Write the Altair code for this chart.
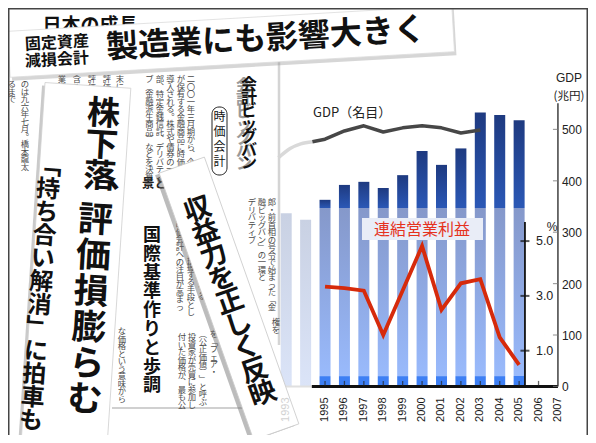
import altair as alt
import pandas as pd

JP = "Noto Sans CJK JP"
NUM = "Liberation Sans"

# ---------------- data ----------------
bar_years = [1993, 1994, 1995, 1996, 1997, 1998, 1999, 2000, 2001, 2002, 2003, 2004, 2005]
bar_values = [337, 324, 363, 392, 398, 386, 411, 458, 431, 463, 533, 528, 518]

gdp_early_years = [1992.6, 1993.2, 1993.75, 1994.35]
gdp_early_values = [445, 463, 472, 476]
gdp_years = [1994.35, 1995, 1996, 1997, 1998, 1999, 2000, 2001, 2002, 2003]
gdp_values = [476, 481, 497, 507, 495, 503, 507, 503, 493, 499]

profit_years = [1995, 1996, 1997, 1998, 1999, 2000, 2001, 2002, 2003, 2004, 2005]
profit_pct = [3.34, 3.28, 3.19, 1.57, 3.2, 4.82, 2.49, 3.46, 3.61, 1.49, 0.48]

label_years = [1995, 1996, 1997, 1998, 1999, 2000, 2001, 2002, 2003, 2004, 2005, 2006, 2007]
tick_years = [1995, 1996, 1997, 1998, 1999, 2000, 2001, 2002, 2003, 2004, 2005, 2006]
faded_label_years = [1993]
gdp_ticks = [0, 100, 200, 300, 400, 500]
pct_ticks = [1.0, 3.0, 5.0]

# ---------------- style constants ----------------
FADE_BEFORE = 1995
OVERLAY_TOP = 347
STRIP_TOP = 20
AXIS_START = 1994.32
AXIS_END = 2007
GDP_AXIS_X = 2007
GDP_AXIS_TOP = 551
PCT_AXIS_X = 2005.3

XS = alt.Scale(domain=[1978.924, 2008.291], nice=False, zero=False)
YG = alt.Scale(domain=[-94.55, 736.2], nice=False, zero=False)
YP = alt.Scale(domain=[-2.077, 13.507], nice=False, zero=False)


def xf(f):
    return alt.X(f"{f}:Q", scale=XS, axis=None)


def yg(f):
    return alt.Y(f"{f}:Q", scale=YG, axis=None)


def yp(f):
    return alt.Y(f"{f}:Q", scale=YP, axis=None)


def xd(v):
    return alt.XDatum(v, type="quantitative", scale=XS, axis=None)


def ygd(v):
    return alt.YDatum(v, type="quantitative", scale=YG, axis=None)


def ypd(v):
    return alt.YDatum(v, type="quantitative", scale=YP, axis=None)


def grad(c1, c2):
    return alt.LinearGradient(
        gradient="linear",
        stops=[alt.GradientStop(color=c1, offset=0), alt.GradientStop(color=c2, offset=1)],
        x1=0, x2=0, y1=0, y2=1,
    )


ONE = pd.DataFrame({"k": [0]})
layers = []

# ---------------- bars ----------------
bars = pd.DataFrame({"year": bar_years, "value": bar_values})
main = bars[bars.year >= FADE_BEFORE]
faded = bars[bars.year < FADE_BEFORE]
upper = main[main.value > OVERLAY_TOP].assign(lo=OVERLAY_TOP, hi=lambda d: d.value)
mid = main.assign(lo=STRIP_TOP, hi=main.value.clip(upper=OVERLAY_TOP))
bottom = main.assign(lo=0, hi=STRIP_TOP)
fad = faded.assign(lo=0, hi=faded.value)

for df, c1, c2 in [
    (upper, "#1e3a80", "#2b58b6"),
    (mid, "#8598ca", "#99bafc"),
    (bottom, "#3d7ff4", "#3d7ff4"),
    (fad, "#c9d1e3", "#dbe4f8"),
]:
    layers.append(
        alt.Chart(df).mark_bar(size=11, color=grad(c1, c2)).encode(
            x=xf("year"), y=yg("lo"), y2=alt.Y2("hi:Q")
        )
    )

# ---------------- lines ----------------
layers.append(
    alt.Chart(pd.DataFrame({"year": gdp_early_years, "v": gdp_early_values}))
    .mark_line(color="#d9d9d9", strokeWidth=3.5, interpolate="monotone")
    .encode(x=xf("year"), y=yg("v"))
)
layers.append(
    alt.Chart(pd.DataFrame({"year": gdp_years, "v": gdp_values}))
    .mark_line(color="#474747", strokeWidth=3.5, strokeJoin="round")
    .encode(x=xf("year"), y=yg("v"))
)

# overlay label box
layers.append(
    alt.Chart(ONE).mark_rect(color="#e9edf7").encode(
        x=alt.value(354), x2=alt.value(475), y=alt.value(210), y2=alt.value(232)
    )
)
layers.append(
    alt.Chart(ONE).mark_text(text="連結営業利益", font=JP, fontSize=16, color="#e5321d").encode(
        x=alt.value(414), y=alt.value(222)
    )
)

layers.append(
    alt.Chart(pd.DataFrame({"year": profit_years, "p": profit_pct}))
    .mark_line(color="#d62a0b", strokeWidth=3.8, strokeJoin="miter")
    .encode(x=xf("year"), y=yp("p"))
)

# ---------------- axes ----------------
layers.append(
    alt.Chart(ONE).mark_rule(color="#e0e0e0", strokeWidth=2).encode(
        x=xd(1992.6), x2=alt.X2Datum(AXIS_START), y=ygd(0)
    )
)
layers.append(
    alt.Chart(ONE).mark_rule(color="#111111", strokeWidth=3).encode(
        x=xd(AXIS_START), x2=alt.X2Datum(AXIS_END), y=ygd(0)
    )
)
layers.append(
    alt.Chart(pd.DataFrame({"year": tick_years}))
    .mark_tick(orient="vertical", size=5, thickness=1.3, color="#222222", yOffset=-3)
    .encode(x=xf("year"), y=ygd(0))
)
layers.append(
    alt.Chart(pd.DataFrame({"year": label_years}))
    .mark_text(angle=270, align="right", baseline="middle", dx=-11, fontSize=11, font=NUM, color="#1a1a1a")
    .encode(x=xf("year"), y=ygd(0), text=alt.Text("year:Q", format="d"))
)

# GDP axis (right)
layers.append(
    alt.Chart(ONE).mark_rule(color="#222222", strokeWidth=1.3).encode(
        x=xd(GDP_AXIS_X), y=ygd(0), y2=alt.Y2Datum(GDP_AXIS_TOP)
    )
)
layers.append(
    alt.Chart(pd.DataFrame({"v": gdp_ticks}))
    .mark_tick(orient="horizontal", size=5, thickness=1.2, color="#777777", xOffset=-2.5)
    .encode(x=xd(GDP_AXIS_X), y=yg("v"))
)
layers.append(
    alt.Chart(pd.DataFrame({"v": gdp_ticks}))
    .mark_text(align="left", baseline="middle", dx=4, dy=1, fontSize=12, font=NUM, color="#222222")
    .encode(x=xd(GDP_AXIS_X), y=yg("v"), text=alt.Text("v:Q", format="d"))
)

# % axis
layers.append(
    alt.Chart(ONE).mark_rule(color="#111111", strokeWidth=1.8).encode(
        x=xd(PCT_AXIS_X), y=ypd(-0.3), y2=alt.Y2Datum(5.7)
    )
)
layers.append(
    alt.Chart(pd.DataFrame({"p": pct_ticks}))
    .mark_tick(orient="horizontal", size=9, thickness=2, color="#111111")
    .encode(x=xd(PCT_AXIS_X), y=yp("p"))
)
layers.append(
    alt.Chart(pd.DataFrame({"p": pct_ticks}))
    .mark_text(align="left", baseline="middle", dx=11, fontSize=12.5, font=NUM, color="#222222")
    .encode(x=xd(PCT_AXIS_X), y=yp("p"), text=alt.Text("p:Q", format=".1f"))
)


# ---------------- annotation helpers (screen coords) ----------------
def T(s, x, y, size, color="#111111", weight="normal", angle=0, align="center",
      baseline="middle", font=JP, lh=None, opacity=1.0):
    kw = dict(text=s, fontSize=size, color=color, fontWeight=weight, align=align,
              baseline=baseline, font=font, opacity=opacity)
    if angle:
        kw["angle"] = angle % 360
    if "\n" in s:
        kw["lineBreak"] = "\n"
        kw["lineHeight"] = lh
    return alt.Chart(ONE).mark_text(**kw).encode(x=alt.value(x - 8), y=alt.value(y - 8))


VMAP = str.maketrans({"、": "︑", "。": "︒", "「": "﹁", "」": "﹂",
                      "（": "︵", "）": "︶", "ー": "︱"})


def V(s, x, ytop, size, lh, **kw):
    chars = list(s.translate(VMAP))
    return T("\n".join(chars), x, ytop, size, baseline="top", lh=lh, **kw)


def P(cx, cy, w, h, ang, fill, opacity=1.0, stroke=None, sw=0.0):
    path = (f"M{-w/2:.1f},{-h/2:.1f}L{w/2:.1f},{-h/2:.1f}"
            f"L{w/2:.1f},{h/2:.1f}L{-w/2:.1f},{h/2:.1f}Z")
    return alt.Chart(ONE).mark_point(
        shape=path, size=4, angle=ang % 360, filled=True, fill=fill, color=fill,
        opacity=opacity, stroke=stroke or fill, strokeWidth=sw,
    ).encode(x=alt.value(cx - 8), y=alt.value(cy - 8))


# chart titles
layers.append(T("GDP（名目）", 313, 113, 13, color="#222222", align="left"))
layers.append(T("GDP", 569, 78, 12, color="#222222", font=NUM))
layers.append(T("(兆円)", 569, 97, 11.5, color="#222222"))
layers.append(T("%", 552, 227, 12, color="#222222", font=NUM))

# ---------------- newspaper clippings ----------------
layers.append(
    alt.Chart(ONE).mark_rule(color="#d4d4d4", strokeWidth=2.5).encode(
        x=alt.value(279 - 8), y=alt.value(50 - 8), y2=alt.value(345 - 8)
    )
)
layers.append(
    alt.Chart(ONE).mark_rule(color="#d0d0d0", strokeWidth=2).encode(
        x=alt.value(112 - 8), x2=alt.value(242 - 8), y=alt.value(408 - 8)
    )
)

small_cols = [
    (191, 75, "二〇〇一年三月期から、企業"),
    (181, 75, "が保有する金融商品に時価会計"),
    (170.5, 75, "導入される。株式や債券の一"),
    (160, 75, "部、特定金銭信託、デリバティ"),
    (149.5, 75, "ブ（金融派生商品）などを決算"),
    (120, 75, "末に市場"),
    (107, 75, "評価益"),
    (92, 75, "評価損"),
    (77, 75, "含み益"),
    (62, 75, "業績に"),
    (25, 80, "のは九六年七月。橋本龍太"),
    (12, 80, "るまで"),
    (272, 198, "郎・前首相の号令で始まった「金"),
    (262, 198, "融ビッグバン」の一環と"),
    (252, 198, "デリバティブ"),
    (276, 318, "権を"),
    (180, 220, "時価会計への注目が高まっ"),
    (191, 248, "を把握する手段とし"),
    (202, 262, "で評価する"),
    (182, 333, "付いた価格が、最も公"),
    (192, 333, "投資家が売買に参加し"),
    (203, 330, "（公正価値）」と呼ぶ"),
    (214, 330, "を「フェア・"),
    (122, 327, "な価格という意味から"),
]
for cx, cy, s in small_cols:
    layers.append(V(s, cx, cy, 8.3, 7.5, color="#4a4a4a"))

layers.append(T("景とポイ", 142, 184, 12.5, color="#222222", align="left", weight="bold"))

# 会計ビッグバン header
layers.append(V("会計ビッグバン", 244, 78, 16, 13, color="#9a9a9a", weight="bold"))
layers.append(V("会計ビッグバン", 249, 77, 16, 13, color="#111111", weight="bold"))
layers.append(
    alt.Chart(ONE).mark_rect(fill="white", stroke="#222222", strokeWidth=1, cornerRadius=7).encode(
        x=alt.value(212 - 8), x2=alt.value(227 - 8), y=alt.value(107 - 8), y2=alt.value(175 - 8)
    )
)
layers.append(V("時価会計", 219.5, 112, 12, 15, color="#111111"))

# 国際基準 headline on page
layers.append(V("国際基準作りと歩調", 152, 227, 18, 18.8, weight="bold"))

# top banner
layers.append(T("日本の成長", 90, 26, 19, weight="bold"))
layers.append(P(233, 45, 445, 46, -3.3, "#8a8a8a", opacity=0.35))
layers.append(P(231, 41.5, 445, 46, -3.3, "white", stroke="#dddddd", sw=0.8))
layers.append(T("製造業にも影響大きく", 266, 39, 32, weight="bold", angle=-3.3))
layers.append(T("固定資産", 57, 43, 16, weight="bold", angle=-3.3))
layers.append(T("減損会計", 57, 60, 16, weight="bold", angle=-3.3))

# 株下落 clipping
layers.append(P(73, 268, 86, 360, 3.8, "#7a7a7a", opacity=0.4))
layers.append(P(76, 265, 86, 360, 3.8, "white", stroke="#d0d0d0", sw=0.8))
layers.append(V("株下落", 104.5, 98.5, 33, 31.5, weight="bold", angle=3.4))
layers.append(T("︑", 103, 197, 33, weight="bold", angle=3.4))
layers.append(V("評価損膨らむ", 96.5, 203.5, 35, 36, weight="bold", angle=3.4))
layers.append(V("「持ち合い解消」に拍車も", 50.5, 155, 24, 23.2, weight="bold", angle=4.2))

# 収益力 clipping
layers.append(P(225, 300.5, 48, 283, -19.5, "#6a6a6a", opacity=0.45))
layers.append(P(229, 298.5, 48, 283, -19.5, "white", stroke="#cccccc", sw=0.8))
layers.append(V("収益力を正しく反映", 193.5, 198.3, 27, 24.4, weight="bold", angle=-19.5))

# faded first year label (drawn above the clipping edge)
layers.append(
    alt.Chart(pd.DataFrame({"year": faded_label_years}))
    .mark_text(angle=270, align="right", baseline="middle", dx=-11, fontSize=11, font=NUM, color="#d2d2d2")
    .encode(x=xf("year"), y=ygd(0), text=alt.Text("year:Q", format="d"))
)

# frame
for enc in [
    dict(x=alt.value(0.75), y=alt.value(0), y2=alt.value(427)),
    dict(x=alt.value(0), x2=alt.value(580), y=alt.value(0.75)),
    dict(x=alt.value(579.25), y=alt.value(0), y2=alt.value(427)),
]:
    layers.append(alt.Chart(ONE).mark_rule(color="#444444", strokeWidth=1.5).encode(**enc))

chart = (
    alt.layer(*layers)
    .resolve_scale(y="independent")
    .properties(width=580, height=427, autosize=alt.AutoSizeParams(type="none"),
                padding=0, background="white")
    .configure_view(strokeWidth=0)
)

chart.save("out.html", embed_options={"renderer": "svg", "actions": False})
